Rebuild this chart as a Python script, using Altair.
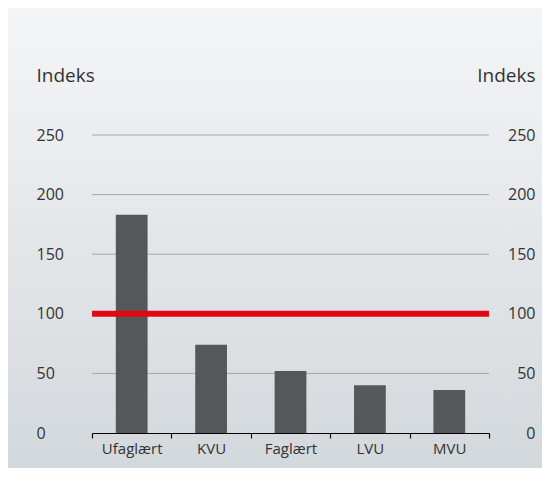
import altair as alt
import pandas as pd

categories = ["Ufaglært", "KVU", "Faglært", "LVU", "MVU"]
values = [183, 74, 52, 40, 36]
reference_level = [100]
tick_values = [0, 50, 100, 150, 200, 250]
grid_values = [50, 100, 150, 200, 250]
axis_title = "Indeks"

FONT = "Open Sans"
TXT = "#333333"

bars_df = pd.DataFrame({"cat": categories, "value": values})
ref_df = pd.DataFrame({"v": reference_level})
grid_df = pd.DataFrame({"v": grid_values})
bg_df = pd.DataFrame({"a": [0]})

yscale = alt.Scale(domain=[0, 250], nice=False, zero=True)

background = alt.Chart(bg_df).mark_rect(
    fill={
        "gradient": "linear",
        "x1": 0, "y1": 0, "x2": 0, "y2": 1,
        "stops": [
            {"offset": 0, "color": "#f4f5f7"},
            {"offset": 1, "color": "#d3d8dc"},
        ],
    }
).encode(
    x=alt.value(-84), x2=alt.value(450), y=alt.value(-127), y2=alt.value(333)
)

grid = alt.Chart(grid_df).mark_rule(color="#a6a6a6", strokeWidth=1).encode(
    y=alt.Y(
        "v:Q",
        scale=yscale,
        axis=alt.Axis(
            orient="right",
            values=tick_values,
            title=axis_title,
            titleAngle=0,
            titleAlign="right",
            titleBaseline="alphabetic",
            titleX=46,
            titleY=-54,
            titleFont=FONT,
            titleFontSize=19,
            titleFontWeight="normal",
            titleColor=TXT,
            labelAlign="right",
            labelBaseline="middle",
            labelPadding=46,
            labelFont=FONT,
            labelFontSize=16,
            labelColor=TXT,
            ticks=False,
            tickSize=0,
            domain=False,
            grid=False,
            zindex=1,
        ),
    )
)

bars = alt.Chart(bars_df).mark_bar(
    color="#545859", width=alt.RelativeBandSize(0.4)
).encode(
    x=alt.X(
        "cat:N",
        sort=categories,
        scale=alt.Scale(paddingInner=0, paddingOuter=0),
        axis=alt.Axis(
            title=None,
            labelAngle=0,
            labelFont=FONT,
            labelFontSize=15,
            labelColor=TXT,
            labelPadding=3,
            domainColor="#000000",
            domainWidth=1.2,
            tickColor="#000000",
            tickWidth=1.2,
            tickSize=5,
            tickBand="extent",
            grid=False,
            zindex=1,
        ),
    ),
    y=alt.Y(
        "value:Q",
        scale=yscale,
        axis=alt.Axis(
            orient="left",
            values=tick_values,
            title=axis_title,
            titleAngle=0,
            titleAlign="left",
            titleBaseline="alphabetic",
            titleX=-56,
            titleY=-54,
            titleFont=FONT,
            titleFontSize=19,
            titleFontWeight="normal",
            titleColor=TXT,
            labelAlign="left",
            labelBaseline="middle",
            labelPadding=56,
            labelFont=FONT,
            labelFontSize=16,
            labelColor=TXT,
            ticks=False,
            tickSize=0,
            domain=False,
            grid=False,
            zindex=1,
        ),
    ),
)

ref = alt.Chart(ref_df).mark_rule(color="#e30613", strokeWidth=6, strokeCap="butt").encode(
    y=alt.Y("v:Q", scale=yscale, axis=None)
)

chart = (
    alt.layer(background, grid, bars, ref)
    .resolve_axis(y="independent")
    .properties(width=397, height=298, padding=0)
    .configure_view(stroke=None)
)

chart.save("out.html", embed_options={"renderer": "svg", "actions": False})
